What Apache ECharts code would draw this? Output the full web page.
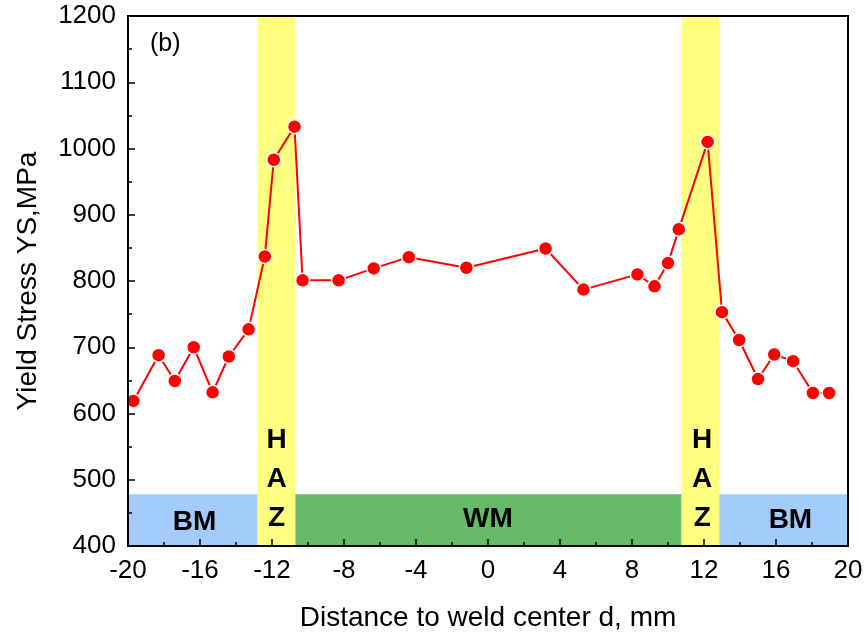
<!DOCTYPE html>
<html>
<head>
<meta charset="utf-8">
<script src="https://cdn.jsdelivr.net/npm/echarts@6/dist/echarts.min.js"></script>
<style>html,body{margin:0;padding:0;background:#fff}#c{width:867px;height:643px}</style>
</head>
<body>
<div id="c"></div>
<script>
// Yield stress profile across the weld
const distance = [-19.7, -18.3, -17.4, -16.35, -15.3, -14.4, -13.3, -12.4, -11.9, -10.75, -10.3,
  -8.3, -6.35, -4.4, -1.2, 3.2, 5.3, 8.3, 9.25, 10.0, 10.6, 12.2, 13.0, 13.95, 15.0, 15.9, 16.95, 18.05, 18.95];
const yieldStress = [619, 688, 649, 700, 632, 686, 727, 837, 983, 1033, 801,
  801, 819, 836, 820, 849, 787, 810, 792, 827, 878, 1010, 753, 711, 652, 689, 679, 631, 631];

// Zones: name, from, to, top value
const zoneNames = ['BM', 'HAZ', 'WM', 'HAZ', 'BM'];
const zoneFrom = [-20, -12.8, -10.7, 10.75, 12.85];
const zoneTo = [-12.8, -10.7, 10.75, 12.85, 20];
const zoneTop = [478, 1200, 478, 1200, 478];
const zoneColors = { BM: '#a3cbfb', HAZ: '#ffff80', WM: '#66bb66' };

// Zone captions: text, x, y
const captionText = ['BM', 'H\nA\nZ', 'WM', 'H\nA\nZ', 'BM'];
const captionX = [-16.3, -11.75, 0, 11.9, 16.8];
const captionY = [436, 500, 441, 500, 439];

const xTicks = [-20, 20, 4];
const yTicks = [400, 1200, 100];

const font = 'Liberation Sans, Arial, sans-serif';

const chart = echarts.init(document.getElementById('c'), null, { renderer: 'canvas' });

const areaData = zoneNames.map((n, i) => [
  { xAxis: zoneFrom[i], yAxis: 400, itemStyle: { color: zoneColors[n], opacity: 1 } },
  { xAxis: zoneTo[i], yAxis: zoneTop[i] }
]);

const axisCommon = {
  type: 'value', nameLocation: 'middle', z: 10,
  nameTextStyle: { fontFamily: font, fontSize: 28, color: '#000' },
  axisLine: { onZero: false, lineStyle: { color: '#000', width: 2 } },
  axisTick: { inside: true, length: 7, lineStyle: { color: '#000', width: 1.5 } },
  minorTick: { show: true, splitNumber: 2, length: 4, lineStyle: { color: '#000', width: 1.5 } },
  axisLabel: { fontFamily: font, fontSize: 26, color: '#000', margin: 12, formatter: v => String(v) },
  splitLine: { show: false }
};

chart.setOption({
  animation: false,
  grid: { left: 128, right: 19, top: 16, bottom: 97 },
  xAxis: Object.assign({}, axisCommon, {
    min: xTicks[0], max: xTicks[1], interval: xTicks[2],
    name: 'Distance to weld center d, mm', nameGap: 58
  }),
  yAxis: Object.assign({}, axisCommon, {
    min: yTicks[0], max: yTicks[1], interval: yTicks[2],
    name: 'Yield Stress YS,MPa', nameGap: 86
  }),
  graphic: [
    { type: 'rect', shape: { x: 128, y: 16, width: 720, height: 530 }, style: { fill: 'none', stroke: '#000', lineWidth: 2 }, z: 100, silent: true },
    { type: 'text', left: 150, top: 32, style: { text: '(b)', font: '25px ' + font, fill: '#000' }, z: 100 }
  ],
  series: [
    {
      type: 'line', data: [], silent: true, z: -1,
      markArea: { silent: true, data: areaData, label: { show: false } }
    },
    {
      type: 'scatter', symbolSize: 0, silent: true, z: 3,
      itemStyle: { opacity: 1 },
      data: captionText.map((t, i) => ({ value: [captionX[i], captionY[i]], label: { formatter: t } })),
      label: {
        show: true, position: 'inside', fontFamily: font, fontSize: 28, fontWeight: 'bold',
        color: '#000', textBorderWidth: 0, lineHeight: 39, align: 'center', verticalAlign: 'middle'
      }
    },
    {
      type: 'line', z: 5, clip: false,
      data: distance.map((d, i) => [d, yieldStress[i]]),
      lineStyle: { color: '#ff0000', width: 2 },
      symbol: 'circle', symbolSize: 14,
      itemStyle: { color: '#ff0000', borderColor: '#fff', borderWidth: 1.5 }
    }
  ]
});
</script>
</body>
</html>
